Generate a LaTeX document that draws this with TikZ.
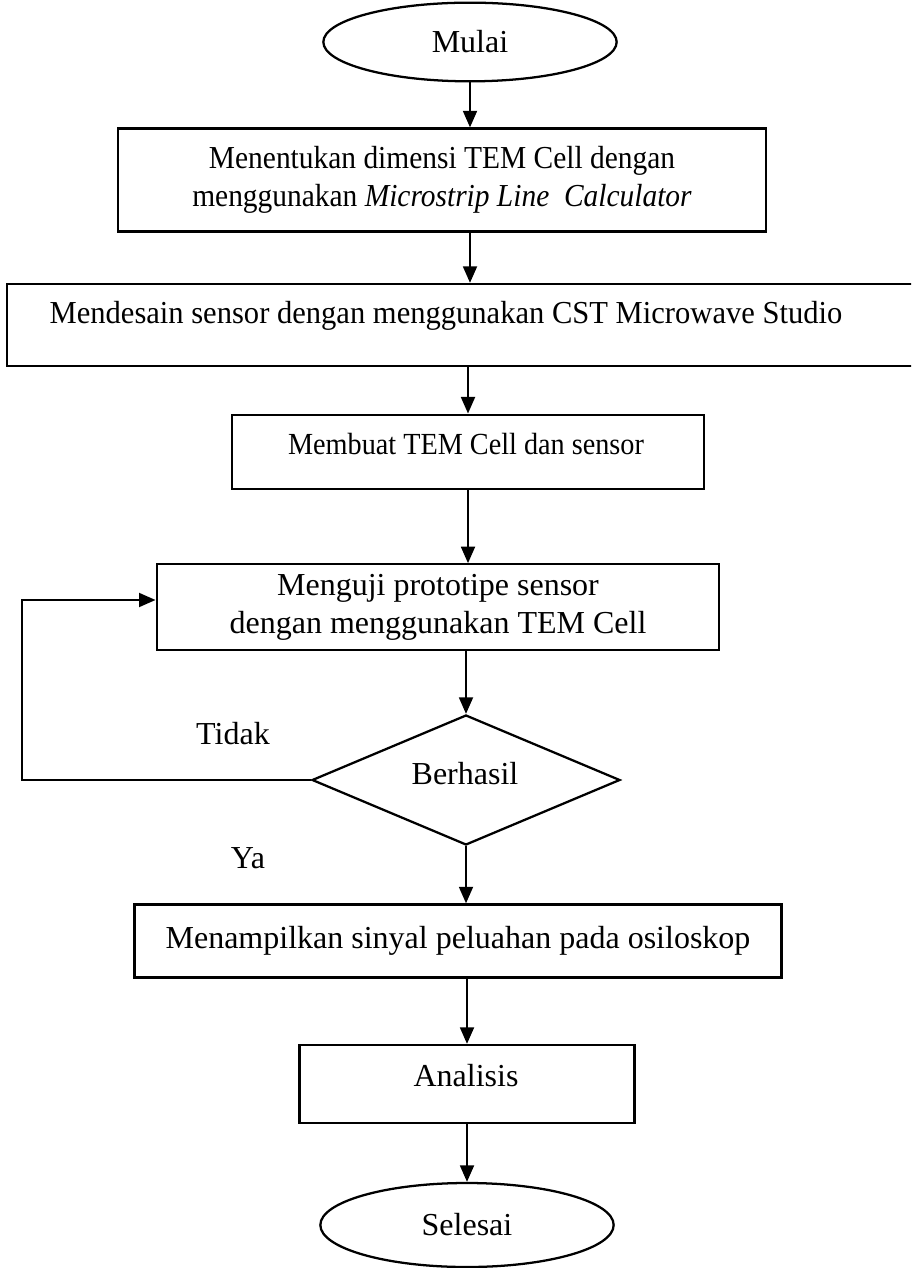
\documentclass[tikz,border=0pt]{standalone}
\usepackage{fontspec}
\setmainfont{Liberation Serif}
\newfontfamily\sempitA[FakeStretch=0.92]{Liberation Serif}
\newfontfamily\sempitB[FakeStretch=0.955]{Liberation Serif}
\usetikzlibrary{arrows.meta,shapes.geometric,calc}

\begin{document}
\begin{tikzpicture}[x=0.375pt,y=-0.375pt,
        line width=0.85pt,
        font=\fontsize{12}{14.2}\selectfont,
        terminal/.style={draw,ellipse,inner sep=0pt,minimum width=110pt,minimum height=29.5pt},
        prosesbox/.style={draw,rectangle,inner sep=0pt,align=center},
        keputusan/.style={draw,diamond,inner sep=0pt,aspect=2.4,minimum width=115.5pt,minimum height=48.75pt},
        flow/.style={-{Triangle[length=6.2pt,width=5.2pt]}}]
        % page frame
        \useasboundingbox (0,0) rectangle (911,1268);
        \clip (0,0) rectangle (911,1268);
        % draw terminals
        \draw (470,42) node[terminal] (mulai) {Mulai};
        \draw (467,1225) node[terminal,minimum height=31.5pt] (selesai) {Selesai};
        % draw process boxes
        \draw (442,180) node[prosesbox,minimum width=243pt,minimum height=38.6pt,
                font=\sempitA\fontsize{12}{14.2}\selectfont] (dimensi)
                {Menentukan dimensi TEM Cell dengan\\menggunakan \textit{Microstrip Line~ Calculator}};
        \draw (466,325) node[prosesbox,minimum width=344pt,minimum height=30.75pt] (desain) {};
        \draw (446,316) node[font=\sempitB\fontsize{12}{14}\selectfont] (desaintxt)
                {Mendesain sensor dengan menggunakan CST Microwave Studio};
        \draw (468,452) node[prosesbox,minimum width=177pt,minimum height=28pt] (buat) {};
        \draw (466,444) node[font=\sempitA\fontsize{11.5}{13}\selectfont] (buattxt) {Membuat TEM Cell dan sensor};
        \draw (438,607) node[prosesbox,minimum width=211pt,minimum height=32pt] (uji)
                {Menguji prototipe sensor\\dengan menggunakan TEM Cell};
        \draw (458,941) node[prosesbox,minimum width=242.6pt,minimum height=27.4pt] (tampil)
                {Menampilkan sinyal peluahan pada osiloskop};
        \draw (467,1084) node[prosesbox,minimum width=125.6pt,minimum height=29.25pt] (analisis) {};
        \draw (466,1076) node (analisistxt) {Analisis};
        % draw decision
        \draw (466,780) node[keputusan] (cek) {};
        \draw (465,774) node (cektxt) {Berhasil};
        \draw (233,734) node (tidak) {Tidak};
        \draw (248,858) node (ya) {Ya};
        % draw connectors
        \draw[flow] (mulai.south) -- (mulai.south |- dimensi.north);
        \draw[flow] (mulai.south |- dimensi.south) -- (mulai.south |- desain.north);
        \draw[flow] (buat.north |- desain.south) -- (buat.north);
        \draw[flow] (buat.south) -- (buat.south |- uji.north);
        \draw[flow] (cek.north |- uji.south) -- (cek.north);
        \draw[flow] (cek.south) -- (cek.south |- tampil.north);
        \draw[flow] (analisis.north |- tampil.south) -- (analisis.north);
        \draw[flow] (analisis.south) -- (selesai.north);
        % loop back when not successful
        \coordinate (balik) at (22,600);
        \draw[flow] (cek.west) -| (balik) -- (balik -| uji.west);
\end{tikzpicture}
\end{document}
